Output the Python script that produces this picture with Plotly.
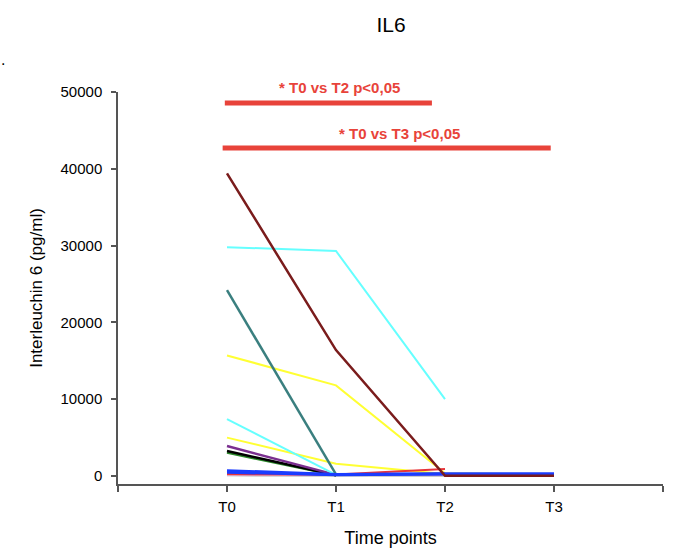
import plotly.graph_objects as go

time_points = ["T0", "T1", "T2", "T3"]
x_pos = [1, 2, 3, 4]

series_names = ["P1", "P2", "P3", "P4", "P5", "P6", "P7", "P8", "P9", "P10", "P11", "P12", "P13", "P14"]
series_colors = ["#b0b0b0", "#f2a0c8", "#2a8a2a", "#000000", "#7a2f8f", "#ffff33", "#66ffff",
                 "#ffff33", "#3a7f7f", "#e8343a", "#1a3cff", "#1a3cff", "#66ffff", "#7a1c1c"]
series_values = [
    [120, 80, 80, 60],
    [150, 120, 150, None],
    [3050, 80, None, None],
    [3250, 100, None, None],
    [3900, 150, None, None],
    [5000, 1600, 250, None],
    [7400, 150, None, None],
    [15700, 11800, 350, 200],
    [24200, 200, None, None],
    [250, 200, 900, None],
    [500, 150, 250, None],
    [700, 200, 300, 300],
    [29800, 29300, 10000, None],
    [39400, 16400, 30, 30],
]
series_widths = [2.5, 2, 2.5, 2.5, 2.5, 2, 2, 2, 2.5, 2, 3, 3, 2, 2.5]

y_ticks = [0, 10000, 20000, 30000, 40000, 50000]
y_ticktext = ["0", "10000", "20000", "30000", "40000", "50000"]

sig_labels = ["* T0 vs T2 p<0,05", "* T0 vs T3 p<0,05"]
sig_x = [[0.98, 2.88], [0.96, 3.97]]
sig_y = [48570, 42700]

# plot area: x 118..663, y 92..484 (pixels)
L, R, T, B = 118, 663, 92, 484
W, H = R - L, B - T


def px(xp):
    return (xp - L) / W


def py(yp):
    return (B - yp) / H


fig = go.Figure()
for name, color, vals, w in zip(series_names, series_colors, series_values, series_widths):
    fig.add_trace(go.Scatter(x=x_pos, y=vals, mode="lines", name=name,
                             line=dict(color=color, width=w), connectgaps=False,
                             showlegend=False, hoverinfo="skip"))

for xs, yv in zip(sig_x, sig_y):
    fig.add_trace(go.Scatter(x=xs, y=[yv, yv], mode="lines",
                             line=dict(color="#e8433a", width=5),
                             showlegend=False, hoverinfo="skip", cliponaxis=False))

red_font = dict(color="#e8433a", size=15, family="Liberation Sans, Arial")
annotations = [
    dict(x=px(339), y=py(87), xref="paper", yref="paper", text="<b>" + sig_labels[0] + "</b>",
         showarrow=False, font=red_font, xanchor="center", yanchor="middle"),
    dict(x=px(399), y=py(133), xref="paper", yref="paper", text="<b>" + sig_labels[1] + "</b>",
         showarrow=False, font=red_font, xanchor="center", yanchor="middle"),
    dict(x=px(-1), y=py(60), xref="paper", yref="paper", text=".",
         showarrow=False, font=dict(size=16, color="#000"), xanchor="left", yanchor="middle"),
]

fig.update_layout(
    width=676, height=548,
    margin=dict(l=L, r=676 - R, t=T, b=548 - B, autoexpand=False),
    plot_bgcolor="white", paper_bgcolor="white",
    font=dict(family="Liberation Sans, Arial", color="#000"),
    title=dict(text="IL6", x=391 / 676, xanchor="center", y=1 - 25 / 548, yanchor="middle",
               font=dict(size=21, color="#000")),
    annotations=annotations,
    xaxis=dict(range=[0, 5], tickvals=[0, 1, 2, 3, 4, 5], ticktext=[""] + time_points + [""],
               showline=True, linecolor="#555", linewidth=1.5, ticks="outside", ticklen=6,
               tickcolor="#555", tickwidth=1.5, showgrid=False, zeroline=False,
               tickfont=dict(size=15, color="#000"), ticklabelstandoff=2, automargin=False,
               title=dict(text="Time points", font=dict(size=18, color="#000"), standoff=18)),
    yaxis=dict(range=[-1040, 50000], tickvals=y_ticks, ticktext=y_ticktext,
               showline=True, linecolor="#555", linewidth=1.5, ticks="outside", ticklen=5,
               tickcolor="#555", tickwidth=1.5, showgrid=False, zeroline=False,
               tickfont=dict(size=15, color="#000"), ticklabelstandoff=6, automargin=False,
               title=dict(text="Interleuchin 6 (pg/ml)", font=dict(size=17, color="#000"), standoff=14)),
)

fig.write_html("out.html")
